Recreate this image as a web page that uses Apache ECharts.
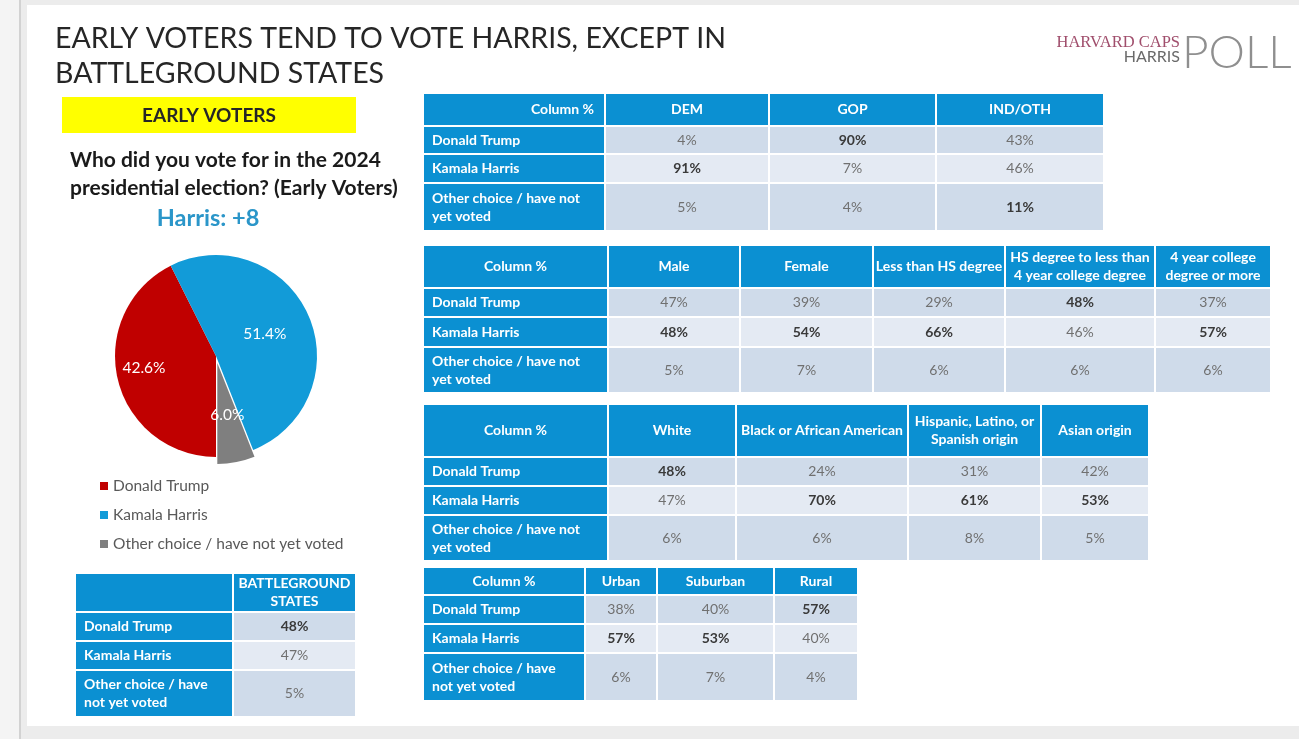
<!DOCTYPE html>
<html>
<head>
<meta charset="utf-8">
<script src="https://cdn.jsdelivr.net/npm/echarts@6/dist/echarts.min.js"></script>
<style>
html,body{margin:0;padding:0;background:#ececec;}
#chart{width:1299px;height:739px;}
</style>
</head>
<body>
<div id="chart"></div>
<script>
// ---------------- DATA ----------------
const rowLabels = ['Donald Trump', 'Kamala Harris', 'Other choice / have not yet voted'];

const pieNames = ['Donald Trump', 'Kamala Harris', 'Other choice / have not yet voted'];
const pieValues = [42.6, 51.4, 6.0];

const partyCols = ['DEM', 'GOP', 'IND/OTH'];
const partyTrump = [4, 90, 43];
const partyHarris = [91, 7, 46];
const partyOther = [5, 4, 11];
const partyBold = [[0, 1, 0], [1, 0, 0], [0, 0, 1]];

const demoCols = ['Male', 'Female', 'Less than HS degree', 'HS degree to less than\n4 year college degree', '4 year college\ndegree or more'];
const demoTrump = [47, 39, 29, 48, 37];
const demoHarris = [48, 54, 66, 46, 57];
const demoOther = [5, 7, 6, 6, 6];
const demoBold = [[0, 0, 0, 1, 0], [1, 1, 1, 0, 1], [0, 0, 0, 0, 0]];

const raceCols = ['White', 'Black or African American', 'Hispanic, Latino, or\nSpanish origin', 'Asian origin'];
const raceTrump = [48, 24, 31, 42];
const raceHarris = [47, 70, 61, 53];
const raceOther = [6, 6, 8, 5];
const raceBold = [[1, 0, 0, 0], [0, 1, 1, 1], [0, 0, 0, 0]];

const areaCols = ['Urban', 'Suburban', 'Rural'];
const areaTrump = [38, 40, 57];
const areaHarris = [57, 53, 40];
const areaOther = [6, 7, 4];
const areaBold = [[0, 0, 1], [1, 1, 0], [0, 0, 0]];

const bgCols = ['BATTLEGROUND\nSTATES'];
const bgTrump = [48];
const bgHarris = [47];
const bgOther = [5];
const bgBold = [[1], [0], [0]];

const cornerLabel = 'Column %';

// ---------------- LAYOUT (positions / sizes only) ----------------
const tables = [
  { cols: partyCols, vals: [partyTrump, partyHarris, partyOther], bold: partyBold, corner: cornerLabel,
    x: 424, y: 94, cw: [182, 164, 167, 168], rh: [33, 28, 29, 48], cornerAlign: 'right', wrap: 160 },
  { cols: demoCols, vals: [demoTrump, demoHarris, demoOther], bold: demoBold, corner: cornerLabel,
    x: 424, y: 246, cw: [185, 132, 133, 132, 150, 116], rh: [43, 29, 30, 46], cornerAlign: 'center', wrap: 160 },
  { cols: raceCols, vals: [raceTrump, raceHarris, raceOther], bold: raceBold, corner: cornerLabel,
    x: 424, y: 405, cw: [185, 128, 172, 133, 108], rh: [53, 29, 29, 46], cornerAlign: 'center', wrap: 160 },
  { cols: areaCols, vals: [areaTrump, areaHarris, areaOther], bold: areaBold, corner: cornerLabel,
    x: 424, y: 568, cw: [162, 72, 117, 84], rh: [28, 29, 29, 48], cornerAlign: 'center', wrap: 135 },
  { cols: bgCols, vals: [bgTrump, bgHarris, bgOther], bold: bgBold, corner: '',
    x: 76, y: 574, cw: [158, 123], rh: [39, 29, 29, 47], cornerAlign: 'center', wrap: 135 }
];

const GAP = 2;
const BLUE = '#0b90d2';
const ROW_FILLS = ['#cfdbea', '#e4eaf3', '#cfdbea'];
const FONT = 'Lato, "Open Sans", sans-serif';

function cum(a) { const r = [0]; a.forEach(v => r.push(r[r.length - 1] + v)); return r; }

const grids = [], xAxes = [], yAxes = [], series = [];

tables.forEach((t, ti) => {
  const W = t.cw.reduce((a, b) => a + b, 0);
  const H = t.rh.reduce((a, b) => a + b, 0);
  const cx = cum(t.cw), cy = cum(t.rh);
  grids.push({ left: t.x, top: t.y, width: W, height: H });
  xAxes.push({ type: 'value', gridIndex: ti, min: 0, max: W, show: false });
  yAxes.push({ type: 'value', gridIndex: ti, min: 0, max: H, inverse: true, show: false });
  const cells = [];
  cells.push({ c: 0, r: 0, text: t.corner, kind: 'corner' });
  t.cols.forEach((name, j) => cells.push({ c: j + 1, r: 0, text: name, kind: 'head' }));
  rowLabels.forEach((lab, i) => {
    cells.push({ c: 0, r: i + 1, text: lab, kind: 'label' });
    t.vals[i].forEach((v, j) => cells.push({ c: j + 1, r: i + 1, text: v + '%', kind: 'val', bold: t.bold[i][j] }));
  });
  series.push({
    type: 'custom',
    coordinateSystem: 'cartesian2d',
    xAxisIndex: ti, yAxisIndex: ti,
    silent: true,
    data: cells.map(d => [d.c, d.r]),
    renderItem: function (params, api) {
      const d = cells[params.dataIndex];
      const p0 = api.coord([cx[d.c], cy[d.r]]);
      const p1 = api.coord([cx[d.c + 1], cy[d.r + 1]]);
      const w = p1[0] - p0[0] - GAP, h = p1[1] - p0[1] - GAP;
      let fill = BLUE;
      if (d.kind === 'val') fill = ROW_FILLS[d.r - 1];
      let tx = p0[0] + w / 2, align = 'center';
      if (d.kind === 'label') { tx = p0[0] + 8; align = 'left'; }
      if (d.kind === 'corner' && t.cornerAlign === 'right') { tx = p0[0] + w - 10; align = 'right'; }
      const isVal = d.kind === 'val';
      return {
        type: 'group',
        children: [
          { type: 'rect', shape: { x: p0[0], y: p0[1], width: w, height: h }, style: { fill: fill } },
          { type: 'text', style: {
              text: d.text, x: tx, y: p0[1] + h / 2,
              align: align, verticalAlign: 'middle',
              fill: isVal ? (d.bold ? '#3a3a3a' : '#707070') : '#ffffff',
              fontFamily: FONT,
              fontSize: 14,
              fontWeight: isVal ? (d.bold ? 'bold' : 'normal') : 'bold',
              lineHeight: 18,
              width: d.kind === 'label' ? t.wrap : undefined,
              overflow: d.kind === 'label' ? 'break' : undefined
          } }
        ]
      };
    }
  });
});

// Pie
series.push({
  type: 'pie',
  center: [216, 356],
  radius: 101,
  startAngle: 270,
  clockwise: true,
  selectedMode: 'single',
  selectedOffset: 7,
  avoidLabelOverlap: false,
  label: {
    show: true, position: 'inside', color: '#ffffff',
    fontFamily: FONT, fontSize: 15.5,
    formatter: p => p.value.toFixed(1) + '%'
  },
  labelLine: { show: false },
  itemStyle: { borderWidth: 0 },
  emphasis: { disabled: true },
  data: pieNames.map((n, i) => ({
    name: n, value: pieValues[i],
    selected: i === 2,
    label: i === 0 ? { padding: [16, 40, 0, 0] } : {}
  }))
});

const chart = echarts.init(document.getElementById('chart'), null, { renderer: 'canvas' });
chart.setOption({
  animation: false,
  backgroundColor: '#ececec',
  color: ['#c00000', '#129bd8', '#7f7f7f'],
  grid: grids, xAxis: xAxes, yAxis: yAxes,
  legend: {
    orient: 'vertical', left: 95, top: 473,
    itemWidth: 8, itemHeight: 8, itemGap: 13, icon: 'rect',
    selectedMode: false,
    textStyle: { color: '#595959', fontSize: 15.5, fontFamily: FONT },
    data: pieNames
  },
  graphic: [
    { type: 'rect', z: -10, shape: { x: 0, y: 0, width: 19, height: 739 }, style: { fill: '#f4f4f4' } },
    { type: 'rect', z: -10, shape: { x: 19, y: 0, width: 2, height: 739 }, style: { fill: '#d2d2d2' } },
    { type: 'rect', z: -10, shape: { x: 27, y: 5, width: 1272, height: 721 }, style: { fill: '#ffffff' } },
    { type: 'text', x: 55, y: 39, style: { text: 'EARLY VOTERS TEND TO VOTE HARRIS, EXCEPT IN', fill: '#262626', fontFamily: FONT, fontSize: 28.5, verticalAlign: 'middle' } },
    { type: 'text', x: 55, y: 74, style: { text: 'BATTLEGROUND STATES', fill: '#262626', fontFamily: FONT, fontSize: 28.5, verticalAlign: 'middle' } },
    { type: 'rect', shape: { x: 62, y: 97, width: 294, height: 36 }, style: { fill: '#ffff00' } },
    { type: 'text', x: 209, y: 116, style: { text: 'EARLY VOTERS', fill: '#262626', fontFamily: FONT, fontSize: 19, fontWeight: 'bold', align: 'center', verticalAlign: 'middle' } },
    { type: 'text', x: 70, y: 160, style: { text: 'Who did you vote for in the 2024', fill: '#1a1a1a', fontFamily: FONT, fontSize: 21, fontWeight: 'bold', verticalAlign: 'middle' } },
    { type: 'text', x: 70, y: 188, style: { text: 'presidential election? (Early Voters)', fill: '#1a1a1a', fontFamily: FONT, fontSize: 21, fontWeight: 'bold', verticalAlign: 'middle' } },
    { type: 'text', x: 208, y: 218, style: { text: 'Harris: +8', fill: '#2b96c9', fontFamily: FONT, fontSize: 23.5, fontWeight: 'bold', align: 'center', verticalAlign: 'middle' } },
    { type: 'text', x: 1180, y: 43, style: { text: 'HARVARD CAPS', fill: '#a04e6c', fontFamily: '"Liberation Serif", serif', fontSize: 16.5, align: 'right', verticalAlign: 'middle' } },
    { type: 'text', x: 1180, y: 57, style: { text: 'HARRIS', fill: '#6a6a6a', fontFamily: FONT, fontSize: 16, align: 'right', verticalAlign: 'middle' } },
    { type: 'text', x: 1182, y: 53, style: { text: 'POLL', fill: '#8f8f8f', fontFamily: FONT, fontSize: 46, fontWeight: 300, verticalAlign: 'middle' } }
  ],
  series: series
});
</script>
</body>
</html>
